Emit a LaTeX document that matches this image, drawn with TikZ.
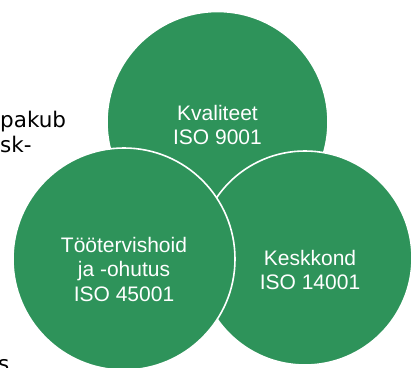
\documentclass[tikz,border=0pt]{standalone}
\usepackage{fontspec}
\setmainfont{Liberation Sans}
\newfontfamily\bgfont{DejaVu Sans}
\definecolor{vgreen}{RGB}{46,147,90}
\begin{document}
\begin{tikzpicture}[x=1pt,y=-1pt,
  venn/.style={fill=vgreen,draw=white,line width=1.6pt},
  vtext/.style={text=white,align=center,font=\fontsize{21}{24.5}\selectfont,inner sep=0pt},
  bgtext/.style={text=black,anchor=base west,inner sep=0pt,font=\bgfont\fontsize{21.5}{25}\selectfont}]
\useasboundingbox (0,0) rectangle (412,367);
\clip (0,0) rectangle (412,367);
\node[bgtext] (t1) at (0,127) {pakub};
\node[bgtext] (t2) at (0,152) {sk-};
\node[bgtext] (t3) at (-2,371) {s};
\path[venn] (217.5,122) circle (110.5);
\path[venn] (305,258) circle (107);
\path[venn] (124,259) circle (111);
\node[vtext] (q) at (217.5,125) {Kvaliteet\\ISO 9001};
\node[vtext] (o) at (124,269) {Töötervishoid\\ja -ohutus\\ISO 45001};
\node[vtext] (k) at (310,270) {Keskkond\\ISO 14001};
\end{tikzpicture}
\end{document}
